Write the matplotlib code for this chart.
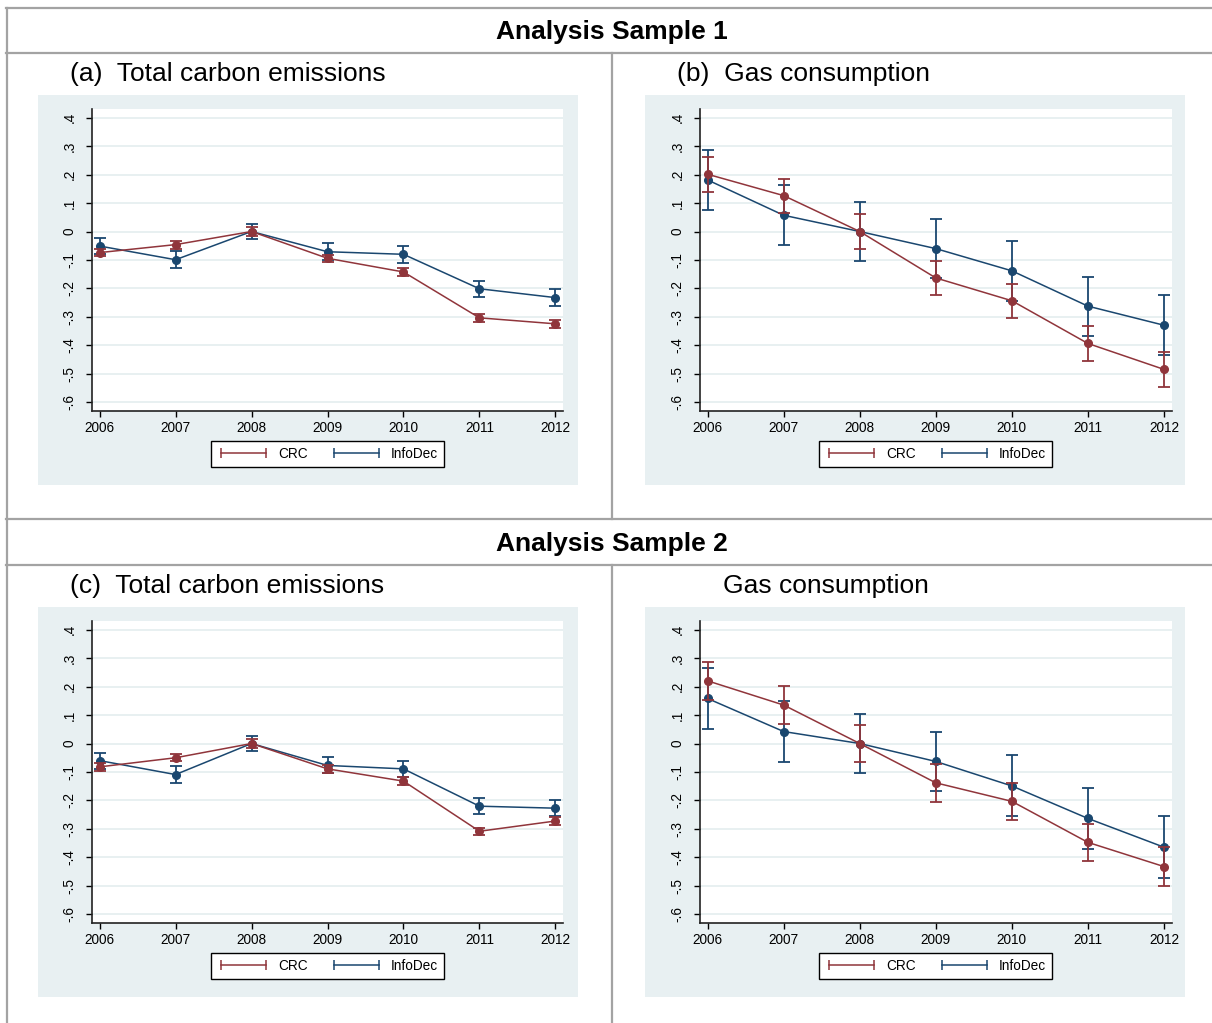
import matplotlib
matplotlib.use("Agg")
import matplotlib.pyplot as plt
from matplotlib.lines import Line2D
from matplotlib.patches import Rectangle

plt.rcParams['font.family'] = ['Liberation Sans', 'DejaVu Sans']

years = [2006, 2007, 2008, 2009, 2010, 2011, 2012]
series_names = ['CRC', 'InfoDec']

# Sample 1: total carbon emissions
a_crc = [-0.074, -0.046, 0.0, -0.094, -0.142, -0.303, -0.324]
a_crc_ci = [0.013, 0.014, 0.015, 0.013, 0.015, 0.014, 0.015]
a_info = [-0.051, -0.099, 0.0, -0.071, -0.080, -0.201, -0.232]
a_info_ci = [0.029, 0.029, 0.028, 0.029, 0.029, 0.029, 0.029]

# Sample 1: gas consumption
b_crc = [0.201, 0.126, 0.0, -0.163, -0.243, -0.393, -0.484]
b_crc_ci = [0.062, 0.060, 0.061, 0.061, 0.060, 0.061, 0.062]
b_info = [0.181, 0.057, 0.0, -0.060, -0.138, -0.262, -0.329]
b_info_ci = [0.105, 0.105, 0.104, 0.103, 0.105, 0.104, 0.105]

# Sample 2: total carbon emissions
c_crc = [-0.082, -0.050, 0.0, -0.089, -0.132, -0.308, -0.272]
c_crc_ci = [0.013, 0.013, 0.015, 0.013, 0.014, 0.013, 0.013]
c_info = [-0.060, -0.109, 0.0, -0.077, -0.089, -0.220, -0.227]
c_info_ci = [0.028, 0.030, 0.028, 0.028, 0.028, 0.028, 0.028]

# Sample 2: gas consumption
d_crc = [0.220, 0.135, 0.0, -0.138, -0.203, -0.347, -0.432]
d_crc_ci = [0.066, 0.066, 0.066, 0.066, 0.066, 0.066, 0.067]
d_info = [0.158, 0.042, 0.0, -0.063, -0.149, -0.263, -0.364]
d_info_ci = [0.107, 0.106, 0.105, 0.105, 0.107, 0.106, 0.108]

y_ticks = [0.4, 0.3, 0.2, 0.1, 0.0, -0.1, -0.2, -0.3, -0.4, -0.5, -0.6]

CRC_COLOR = '#90353B'
INFO_COLOR = '#1A476F'
BG_COLOR = '#E8F0F2'
GRID_COLOR = '#E4EDEF'
RULE_COLOR = '#A3A3A3'

W, H = 1212, 1023


def fx(x):
    return x / W


def fy(y):
    return 1 - y / H


def stata_label(v):
    if abs(v) < 1e-9:
        return '0'
    s = f"{v:.1f}"
    return s.replace('0.', '.')


def draw_panel(fig, box, plot, crc, crc_ci, info, info_ci):
    bx0, by0, bx1, by1 = box
    fig.add_artist(Rectangle((fx(bx0), fy(by1)), (bx1 - bx0) / W, (by1 - by0) / H,
                             transform=fig.transFigure, facecolor=BG_COLOR,
                             edgecolor='none', zorder=-1))
    l, t, r, b = plot
    ax = fig.add_axes([fx(l), fy(b), (r - l) / W, (b - t) / H])
    ax.set_facecolor('white')

    ax.errorbar(years, info, yerr=info_ci, color=INFO_COLOR, lw=1.1, marker='o',
                markersize=5.5, capsize=4.5, elinewidth=1.3, capthick=1.3, zorder=3)
    ax.errorbar(years, crc, yerr=crc_ci, color=CRC_COLOR, lw=1.1, marker='o',
                markersize=5.5, capsize=4.5, elinewidth=1.3, capthick=1.3, zorder=4)

    ax.set_xlim(2005.895, 2012.105)
    ax.set_ylim(-0.63, 0.43)
    ax.set_xticks(years)
    ax.set_xticklabels([str(y) for y in years])
    ax.set_yticks(y_ticks)
    ax.set_yticklabels([stata_label(v) for v in y_ticks], va='center')
    ax.tick_params(axis='y', labelrotation=90)
    ax.tick_params(length=4, width=1, color='black', labelsize=9.8, pad=3)
    ax.tick_params(axis='y', pad=7)
    ax.yaxis.grid(True, color=GRID_COLOR, lw=1.2)
    ax.set_axisbelow(True)
    for side in ['top', 'right']:
        ax.spines[side].set_visible(False)
    for side in ['left', 'bottom']:
        ax.spines[side].set_linewidth(1.2)
        ax.spines[side].set_color('#222222')

    # legend keys drawn as capped ranges, placed under the plot region
    handles = [Line2D([], [], color=CRC_COLOR, lw=1.1, marker='|', markersize=7, mew=1.1),
               Line2D([], [], color=INFO_COLOR, lw=1.1, marker='|', markersize=7, mew=1.1)]
    leg = ax.legend(handles, series_names, ncol=2, numpoints=2, loc='upper center',
                    bbox_to_anchor=(fx((l + r) / 2), fy(b + 30)),
                    bbox_transform=fig.transFigure, borderaxespad=0,
                    frameon=True, fancybox=False,
                    edgecolor='black', framealpha=1, fontsize=9.8, handlelength=3.9,
                    handletextpad=0.6, columnspacing=1.6, borderpad=0.45)
    leg.get_frame().set_linewidth(1.0)
    return ax


fig = plt.figure(figsize=(W / 100, H / 100), dpi=100)
fig.patch.set_facecolor('white')

# table rules
rules = [
    ([6, W], [8, 8]), ([6, W], [53, 53]), ([6, W], [519, 519]), ([6, W], [565, 565]),
    ([7, 7], [8, H]), ([611.5, 611.5], [53, 519]), ([611.5, 611.5], [565, H]),
]
for xs, ys in rules:
    fig.add_artist(Line2D([fx(x) for x in xs], [fy(y) for y in ys],
                          transform=fig.transFigure, color=RULE_COLOR, lw=1.6))

fig.text(fx(611.5), fy(39), 'Analysis Sample 1', ha='center', va='baseline',
         fontsize=19, fontweight='bold')
fig.text(fx(611.5), fy(551), 'Analysis Sample 2', ha='center', va='baseline',
         fontsize=19, fontweight='bold')

fig.text(fx(70), fy(81), '(a)  Total carbon emissions', ha='left', va='baseline', fontsize=19)
fig.text(fx(677), fy(81), '(b)  Gas consumption', ha='left', va='baseline', fontsize=19)
fig.text(fx(70), fy(593), '(c)  Total carbon emissions', ha='left', va='baseline', fontsize=19)
fig.text(fx(723), fy(593), 'Gas consumption', ha='left', va='baseline', fontsize=19)

draw_panel(fig, (38, 95, 578, 485), (91.6, 109, 563.4, 411), a_crc, a_crc_ci, a_info, a_info_ci)
draw_panel(fig, (645, 95, 1185, 485), (699.6, 109, 1172, 411), b_crc, b_crc_ci, b_info, b_info_ci)
draw_panel(fig, (38, 607, 578, 997), (91.6, 621, 563.4, 923), c_crc, c_crc_ci, c_info, c_info_ci)
draw_panel(fig, (645, 607, 1185, 997), (699.6, 621, 1172, 923), d_crc, d_crc_ci, d_info, d_info_ci)

fig.savefig('out.png', dpi=100)
